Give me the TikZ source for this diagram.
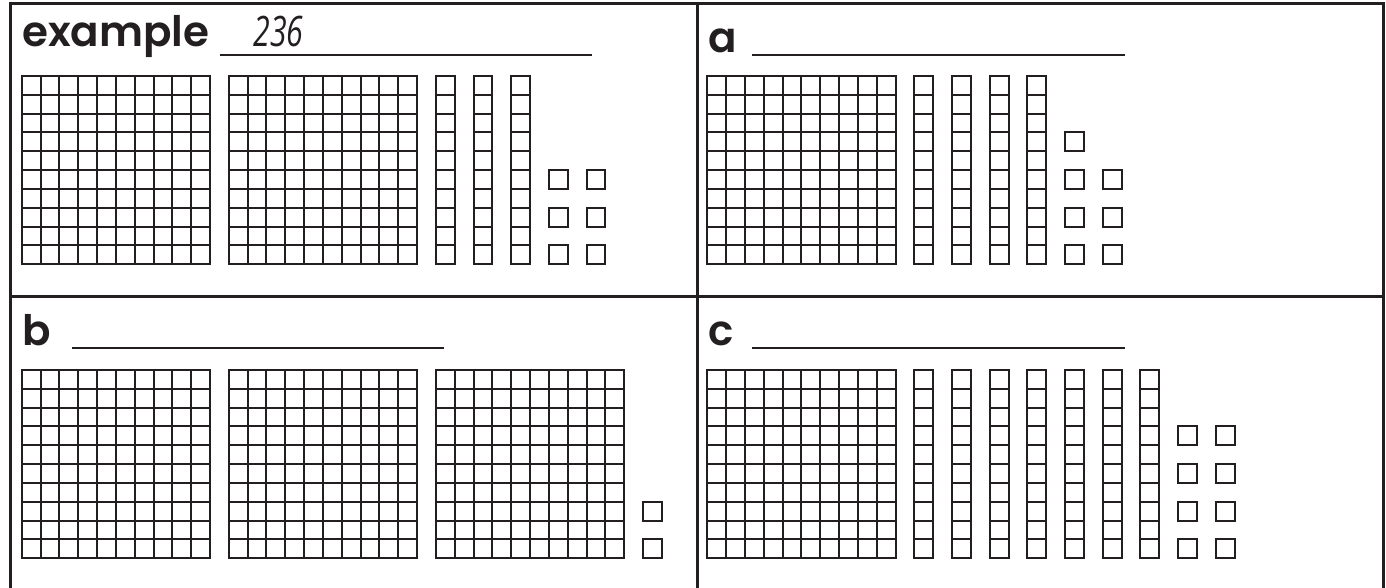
\documentclass[tikz,border=0pt]{standalone}
\usepackage{fontspec}
\usepackage{tikz}
\usetikzlibrary{calc,positioning}
\newfontfamily\headfont{Poppins SemiBold}
\newfontfamily\handfont{Open Sans}[FakeStretch=0.72]
\definecolor{inkblack}{RGB}{35,31,32}
\tikzset{
  block/.style={draw=inkblack, line width=1pt},
  frameline/.style={draw=inkblack, line width=1.5pt},
  answerline/.style={draw=inkblack, line width=0.8pt},
  headlabel/.style={anchor=base west, inner sep=0pt, text=inkblack, font=\headfont\fontsize{21}{21}\selectfont},
}
% base-ten pieces, drawn in cell units
\newcommand{\hundredblock}[1]{%
  \draw[block] (#1,0) rectangle ++(10,10);
  \foreach \k in {1,...,9} {
    \draw[block] (#1+\k,0) -- ++(0,10);
    \draw[block] (#1,\k) -- ++(10,0);
  }}
\newcommand{\tenrod}[1]{%
  \draw[block] (#1,0) rectangle ++(1,10);
  \foreach \k in {1,...,9} {\draw[block] (#1,\k) -- ++(1,0);}}
\newcommand{\oneunit}[2]{\draw[block] (#1,#2) rectangle ++(1,1);}

\begin{document}
\begin{tikzpicture}[x=0.5pt, y=-0.5pt]
\useasboundingbox (0,0) rectangle (1386,588);
% frame
\draw[frameline] (10,588) -- (10,3.5) -- (1383,3.5) -- (1383,588);
\draw[frameline] (697,3.5) -- (697,588);
\draw[frameline] (10,296.5) -- (1383,296.5);

% headings and answer lines
\node[headlabel] (exlabel) at (21.7,46.7) {example};
\node[headlabel] (alabel) at (708,53) {a};
\node[headlabel] (blabel) at (21.7,345) {b};
\node[headlabel] (clabel) at (708,345) {c};
\node[anchor=base west, inner sep=0pt, text=inkblack, font=\handfont\itshape\fontsize{21}{21}\selectfont] (exanswer) at (253,47) {236};
\draw[answerline] (220,55) -- (592,55);
\draw[answerline] (752,55) -- (1125,55);
\draw[answerline] (72,348) -- (444,348);
\draw[answerline] (752,348) -- (1125,348);

% example: 236
\begin{scope}[shift={(21.7,76)}, x=9.415pt, y=-9.415pt]
\hundredblock{0} \hundredblock{11}
\foreach \c in {22,24,26} {\tenrod{\c}}
\foreach \c in {28,30} {\foreach \r in {5,7,9} {\oneunit{\c}{\r}}}
\end{scope}

% a
\begin{scope}[shift={(707.3,76)}, x=9.415pt, y=-9.415pt]
\hundredblock{0}
\foreach \c in {11,13,15,17} {\tenrod{\c}}
\foreach \r in {3,5,7,9} {\oneunit{19}{\r}}
\foreach \r in {5,7,9} {\oneunit{21}{\r}}
\end{scope}

% b
\begin{scope}[shift={(21.7,370)}, x=9.415pt, y=-9.415pt]
\hundredblock{0} \hundredblock{11} \hundredblock{22}
\foreach \r in {7,9} {\oneunit{33}{\r}}
\end{scope}

% c
\begin{scope}[shift={(707.3,370)}, x=9.415pt, y=-9.415pt]
\hundredblock{0}
\foreach \c in {11,13,...,23} {\tenrod{\c}}
\foreach \c in {25,27} {\foreach \r in {3,5,7,9} {\oneunit{\c}{\r}}}
\end{scope}
\end{tikzpicture}
\end{document}
